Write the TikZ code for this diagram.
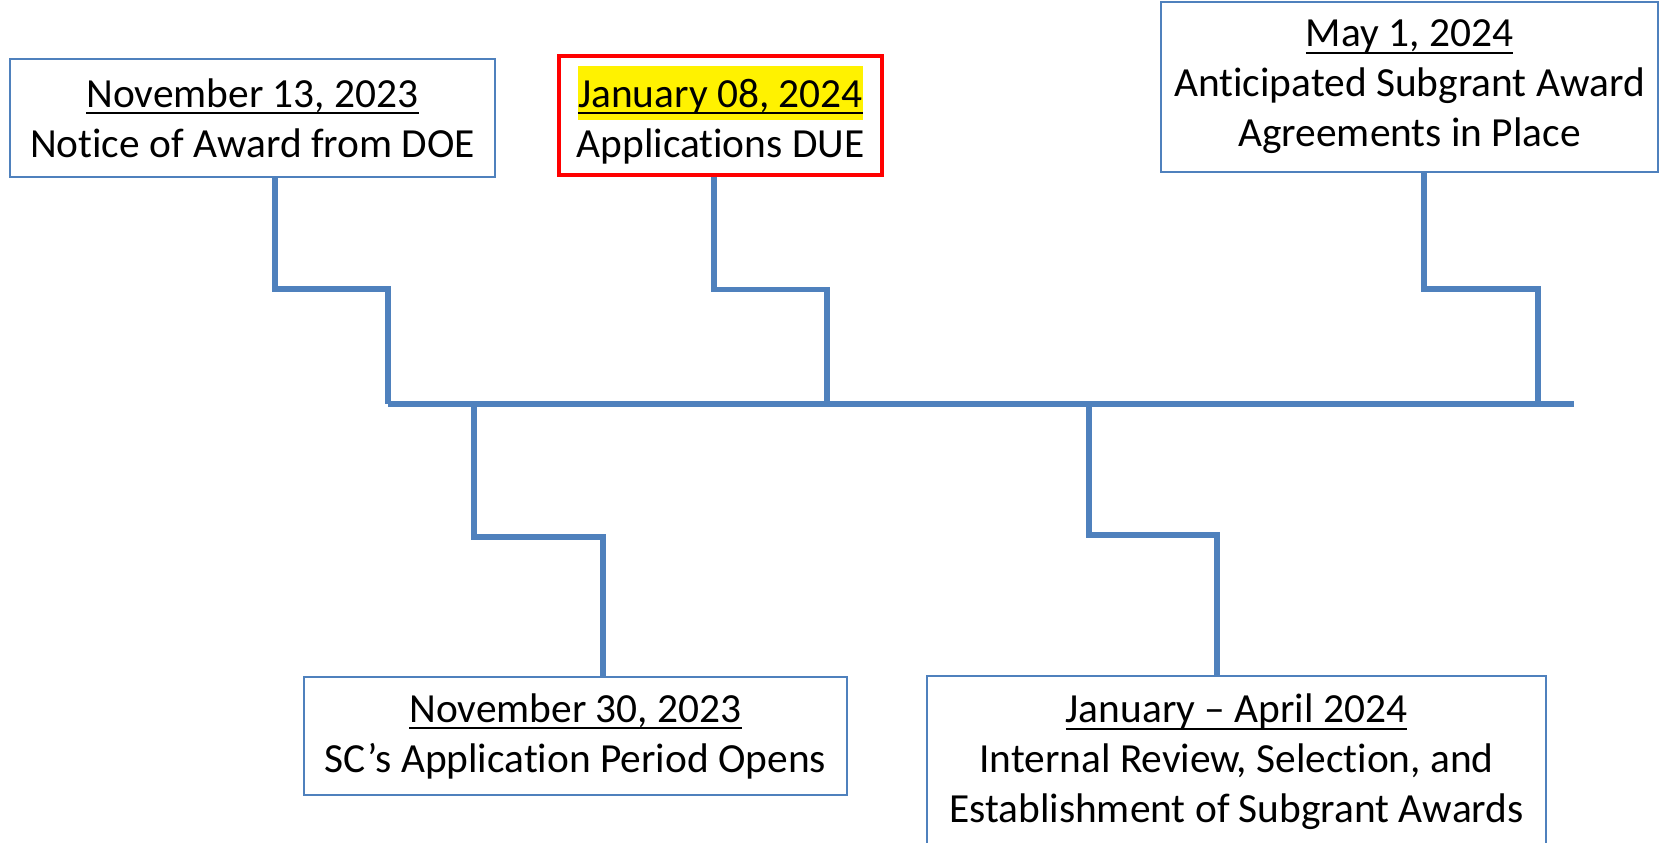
\documentclass[tikz,border=0pt]{standalone}
\usepackage{fontspec}
\setmainfont[Ligatures=NoCommon]{Carlito}
\usetikzlibrary{positioning}
\definecolor{lineblue}{HTML}{4F81BD}

% underlined date, and the highlighted one
\newcommand{\udate}[1]{\setbox0\hbox{#1}\rlap{\rule[-3.5pt]{\wd0}{1.1pt}}\box0}
\newcommand{\hidate}[1]{{\setlength{\fboxsep}{0pt}\colorbox{yellow}{\rule[-6.5pt]{0pt}{27pt}\udate{#1}}}}

\begin{document}
\begin{tikzpicture}[
    x=0.5pt, y=-0.5pt,
    event/.style={rectangle, draw=lineblue, line width=1pt, fill=white,
                  align=center, inner sep=0pt, font=\fontsize{20.7}{25}\selectfont},
    due/.style={event, draw=red, line width=2pt},
    link/.style={draw=lineblue, line width=2.6pt},
]
\useasboundingbox (0,0) rectangle (1679,842);

% events above the line
\node[event, minimum width=242.5pt, minimum height=59pt] (nov13) at (252.5,118)
    {\udate{November 13, 2023}\\Notice of Award from DOE};
\node[due, minimum width=161.5pt, minimum height=59.5pt] (jan08) at (720.5,115)
    {\hidate{January 08, 2024}\\Applications DUE};
\node[event, minimum width=248.5pt, minimum height=85pt] (may01) at (1409.5,87)
    {\udate{May 1, 2024}\\Anticipated Subgrant Award\\Agreements in Place};

% events below the line
\node[event, minimum width=271.5pt, minimum height=59pt] (nov30) at (575.5,736)
    {\udate{November 30, 2023}\\SC’s Application Period Opens};
\node[event, minimum width=309.5pt, minimum height=86pt] (janapr) at (1236.5,762)
    {\udate{January – April 2024}\\Internal Review, Selection, and\\Establishment of Subgrant Awards};

% the time line
\coordinate (tl-a) at (388,404);
\coordinate (tl-b) at (474,404);
\coordinate (tl-c) at (827,404);
\coordinate (tl-d) at (1089,404);
\coordinate (tl-e) at (1538,404);
\coordinate (tl-end) at (1574,404);
\draw[link] (tl-a) -- (tl-end);

\draw[link] (nov13.south -| 275,0) -- ++(0,111) -| (tl-a);
\draw[link] (jan08.south -| 714,0) -- ++(0,113) -| (tl-c);
\draw[link] (may01.south -| 1424,0) -- ++(0,116) -| (tl-e);
\draw[link] (tl-b) -- ++(0,133) -| (nov30.north -| 603,0);
\draw[link] (tl-d) -- ++(0,131) -| (janapr.north -| 1217,0);
\end{tikzpicture}
\end{document}
